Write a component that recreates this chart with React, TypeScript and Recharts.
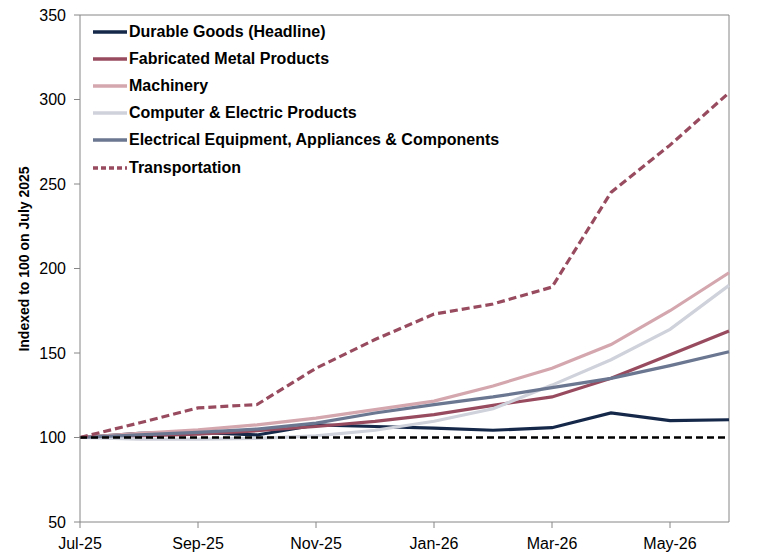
import React from 'react';
import { LineChart, Line, XAxis, YAxis, ReferenceLine } from 'recharts';

const months = ['Jul-25', 'Aug-25', 'Sep-25', 'Oct-25', 'Nov-25', 'Dec-25', 'Jan-26', 'Feb-26', 'Mar-26', 'Apr-26', 'May-26', 'Jun-26'];
const durable = [100, 102.5, 103, 101.5, 107.5, 106.5, 105.5, 104.3, 105.8, 114.5, 110, 110.5];
const fabricated = [100, 101, 102, 104, 106.5, 109.5, 113.5, 119, 124, 135, 149, 163];
const machinery = [100, 102.5, 104.5, 107.5, 111.5, 116.5, 121.5, 130.5, 141, 155, 175, 197.5];
const computer = [100, 99, 99, 99.5, 101, 104.3, 109.6, 117, 131, 146, 164, 190];
const electrical = [100, 101.5, 103, 105, 108.5, 114.5, 119.5, 124, 129.5, 135, 142.5, 150.7];
const transportation = [100, 108.6, 117.5, 119.5, 141, 158, 173, 179, 189, 245, 273, 304];
const yTicks = [50, 100, 150, 200, 250, 300, 350];
const xTicks = ['Jul-25', 'Sep-25', 'Nov-25', 'Jan-26', 'Mar-26', 'May-26'];

const series = [
  { key: 'durable', name: 'Durable Goods (Headline)', color: '#15284a', dash: undefined as string | undefined },
  { key: 'fabricated', name: 'Fabricated Metal Products', color: '#984b5f', dash: undefined },
  { key: 'machinery', name: 'Machinery', color: '#d4a6ae', dash: undefined },
  { key: 'computer', name: 'Computer & Electric Products', color: '#cfd1db', dash: undefined },
  { key: 'electrical', name: 'Electrical Equipment, Appliances & Components', color: '#6b7791', dash: undefined },
  { key: 'transportation', name: 'Transportation', color: '#984b5f', dash: '8 4' },
];

const data = months.map((m, i) => ({
  month: m,
  durable: durable[i],
  fabricated: fabricated[i],
  machinery: machinery[i],
  computer: computer[i],
  electrical: electrical[i],
  transportation: transportation[i],
}));

const FONT = '"Liberation Sans", Arial, sans-serif';
const AXIS = '#868686';

const LegendBox = () => (
  <div style={{ position: 'absolute', left: 93, top: 18, fontFamily: FONT, pointerEvents: 'none' }}>
    {series.map((s) => (
      <div key={s.key} style={{ display: 'flex', alignItems: 'center', height: 27.2 }}>
        <svg width={35} height={6} style={{ marginRight: 1 }}>
          <line x1={0} y1={3} x2={34} y2={3} stroke={s.color} strokeWidth={3.5} strokeDasharray={s.dash ? '5 3' : undefined} />
        </svg>
        <span style={{ fontSize: 16, fontWeight: 'bold', color: '#000', whiteSpace: 'nowrap' }}>{s.name}</span>
      </div>
    ))}
  </div>
);

const YLabel = () => {
  const cx = 24;
  const cy = 259;
  return (
    <text
      x={cx}
      y={cy}
      transform={`rotate(-90 ${cx} ${cy})`}
      textAnchor="middle"
      dominantBaseline="central"
      fontFamily={FONT}
      fontSize={14}
      fontWeight="bold"
      fill="#000"
    >
      Indexed to 100 on July 2025
    </text>
  );
};

export default function App() {
  return (
    <div style={{ position: 'absolute', left: 0, top: 0, width: 770, height: 559, background: '#fff' }}>
      <LineChart width={770} height={559} data={data} margin={{ top: 15, right: 41, left: 0, bottom: 0 }}>
        <XAxis
          dataKey="month"
          ticks={xTicks}
          interval={0}
          height={37}
          tickSize={6}
          tickMargin={10}
          stroke={AXIS}
          tick={{ fill: '#000', fontSize: 16, fontFamily: FONT }}
        />
        <YAxis
          domain={[50, 350]}
          ticks={yTicks}
          width={80}
          tickSize={6}
          tickMargin={8}
          stroke={AXIS}
          tick={{ fill: '#000', fontSize: 16, fontFamily: FONT }}
          label={<YLabel />}
        />
        <ReferenceLine y={350} stroke={AXIS} strokeWidth={1} />
        <ReferenceLine x="Jun-26" stroke={AXIS} strokeWidth={1} />
        {series.map((s) => (
          <Line
            key={s.key}
            dataKey={s.key}
            name={s.name}
            stroke={s.color}
            strokeWidth={3.2}
            strokeDasharray={s.dash}
            dot={false}
            activeDot={false}
            isAnimationActive={false}
          />
        ))}
        <ReferenceLine y={100} stroke="#000" strokeWidth={2.5} strokeDasharray="7 4" />
      </LineChart>
      <LegendBox />
    </div>
  );
}
